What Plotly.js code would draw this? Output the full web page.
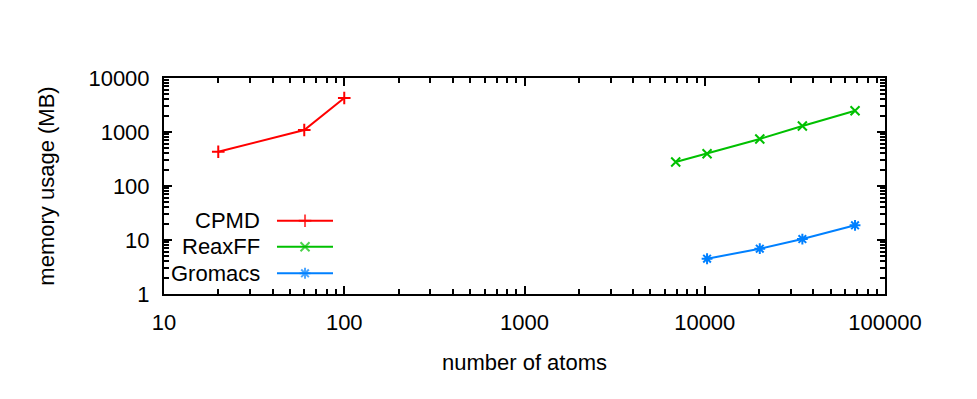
<!DOCTYPE html>
<html>
<head>
<meta charset="utf-8">
<script src="https://cdn.plot.ly/plotly-3.0.1.min.js"></script>
<style>
  html, body { margin: 0; padding: 0; background: #fff; }
  #chart { width: 977px; height: 399px; }
</style>
</head>
<body>
<div id="chart"></div>
<script>
// ---- data ----
const seriesNames = ["CPMD", "ReaxFF", "Gromacs"];
const cpmdAtoms = [20, 60, 100];
const cpmdMemory = [432, 1090, 4260];
const reaxffAtoms = [6900, 10300, 20200, 34800, 68200];
const reaxffMemory = [278, 396, 742, 1290, 2480];
const gromacsAtoms = [10300, 20200, 34800, 68200];
const gromacsMemory = [4.5, 6.9, 10.4, 18.7];
const xTickVals = [10, 100, 1000, 10000, 100000];
const xTickText = ["10", "100", "1000", "10000", "100000"];
const yTickVals = [1, 10, 100, 1000, 10000];
const yTickText = ["1", "10", "100", "1000", "10000"];

// ---- styles ----
const colors = ["#ff0000", "#00c000", "#0080ff"];
const symbols = ["cross-thin", "x-thin", "asterisk"];
const FONT = "Liberation Sans, Arial, sans-serif";
const FS = 22;
const X_RANGE = [1, 5];   // log10 range of x axis
const Y_RANGE = [0, 4];   // log10 range of y axis

// minor tick positions (2..9 in every decade of the major ticks)
function minorVals(majors) {
  const out = [];
  for (let k = 0; k < majors.length - 1; k++) {
    for (let m = 2; m <= 9; m++) out.push(majors[k] * m);
  }
  return out;
}

function series(i, x, y) {
  return {
    x: x, y: y, type: "scatter", mode: "lines+markers", name: seriesNames[i],
    showlegend: false,
    line: { color: colors[i], width: 2 },
    marker: { symbol: symbols[i], size: 9, color: colors[i],
              line: { color: colors[i], width: 2 } }
  };
}

const traces = [
  series(0, cpmdAtoms, cpmdMemory),
  series(1, reaxffAtoms, reaxffMemory),
  series(2, gromacsAtoms, gromacsMemory)
];

// ---- custom legend (sample line on the right of the label, as in the reference) ----
// positions given as fractions of the plot area, converted to the log axes
const legendRowsY = [0.339, 0.219, 0.096];
const legendLineX = [0.1567, 0.1956, 0.2344];
const legendTextX = 0.136;
const fx = f => Math.pow(10, X_RANGE[0] + f * (X_RANGE[1] - X_RANGE[0]));
const fy = f => Math.pow(10, Y_RANGE[0] + f * (Y_RANGE[1] - Y_RANGE[0]));
const annotations = [];
seriesNames.forEach((n, i) => {
  traces.push({
    x: legendLineX.map(fx), y: legendLineX.map(() => fy(legendRowsY[i])),
    type: "scatter", mode: "lines+markers", showlegend: false, hoverinfo: "skip",
    line: { color: colors[i], width: 2 },
    marker: { symbol: symbols[i], size: [0, 9, 0], color: colors[i],
              line: { color: colors[i], width: 2 } }
  });
  annotations.push({
    xref: "paper", yref: "paper", x: legendTextX, y: legendRowsY[i],
    xanchor: "right", yanchor: "middle", showarrow: false,
    text: n, font: { family: FONT, size: FS, color: "#000" }
  });
});

function axis(tv, tt, rng, titleText, standoff) {
  return {
    type: "log", range: rng, showgrid: false, zeroline: false,
    showline: true, linecolor: "#000", linewidth: 2, mirror: "allticks",
    ticks: "inside", ticklen: 8, tickwidth: 2, tickcolor: "#000",
    tickmode: "array", tickvals: tv, ticktext: tt,
    minor: { ticks: "inside", ticklen: 5, tickwidth: 2, tickcolor: "#000",
             tickmode: "array", tickvals: minorVals(tv), showgrid: false },
    tickfont: { family: FONT, size: FS, color: "#000" },
    ticklabelstandoff: 8,
    title: { text: titleText, font: { family: FONT, size: FS, color: "#000" }, standoff: standoff }
  };
}

const layout = {
  width: 977, height: 399,
  paper_bgcolor: "#fff", plot_bgcolor: "#fff",
  margin: { l: 164, r: 92, t: 78, b: 105 },
  showlegend: false,
  xaxis: axis(xTickVals, xTickText, X_RANGE, "number of atoms", 20),
  yaxis: axis(yTickVals, yTickText, Y_RANGE, "memory usage (MB)", 28),
  annotations: annotations
};

Plotly.newPlot("chart", traces, layout, { staticPlot: true, displayModeBar: false });
</script>
</body>
</html>
